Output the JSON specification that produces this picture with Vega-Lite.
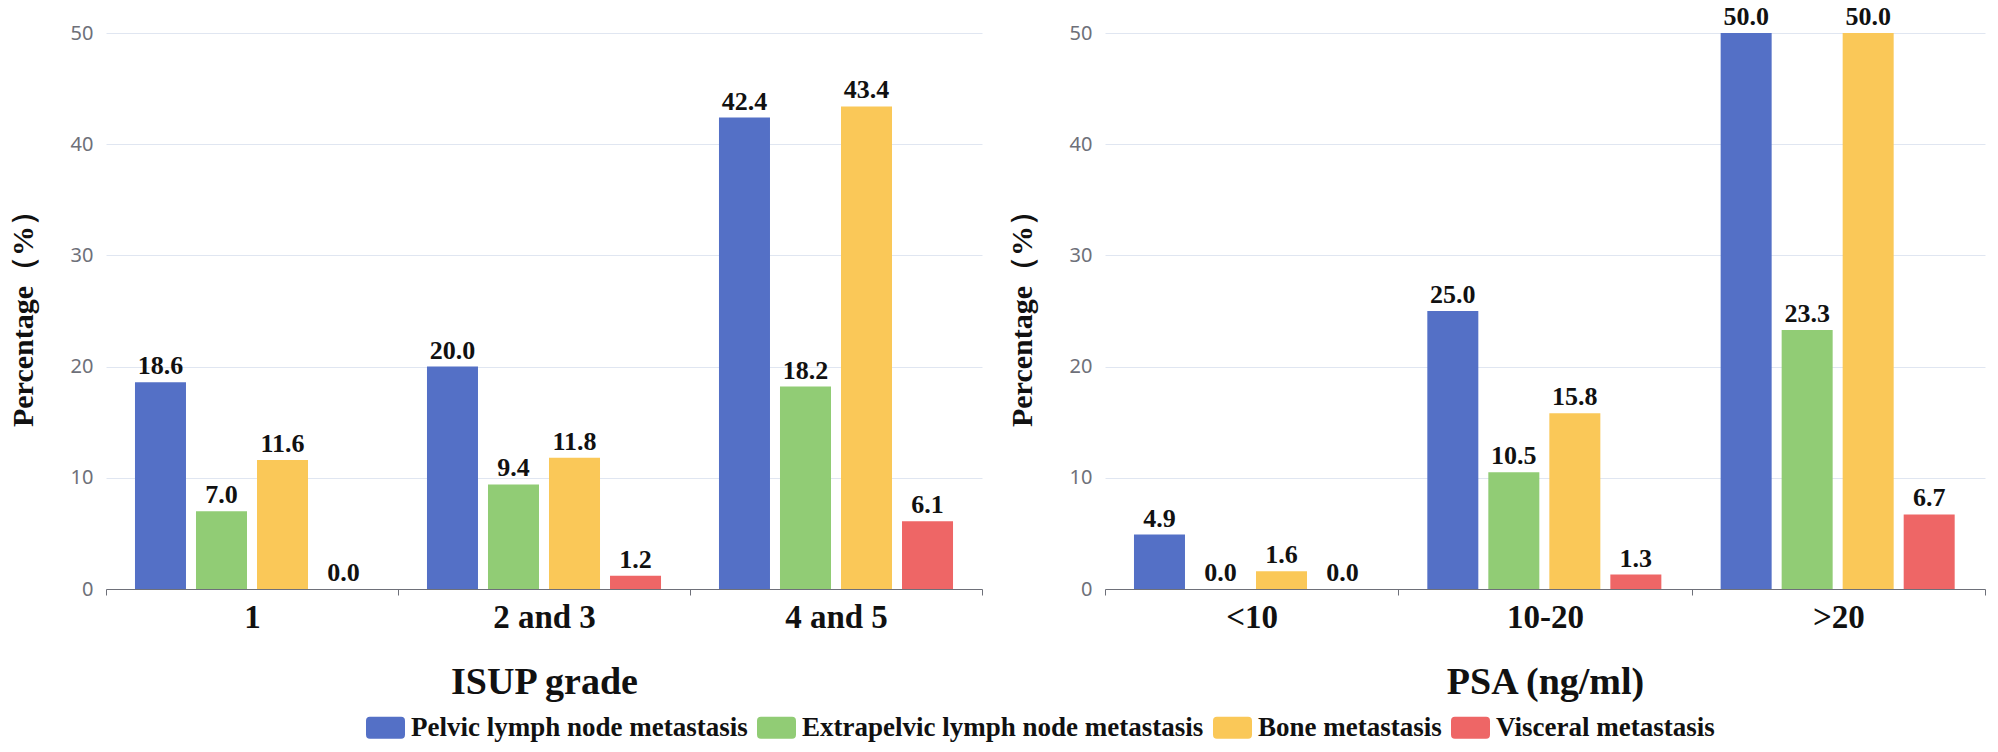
{
  "$schema": "https://vega.github.io/schema/vega-lite/v6.json",
  "background": "white",
  "padding": {"left": 8, "top": 4, "right": 2, "bottom": 8},
  "datasets": {
    "isup": [
      {"group": "1", "type": "Pelvic lymph node metastasis", "pct": 18.6},
      {"group": "1", "type": "Extrapelvic lymph node metastasis", "pct": 7.0},
      {"group": "1", "type": "Bone metastasis", "pct": 11.6},
      {"group": "1", "type": "Visceral metastasis", "pct": 0.0},
      {"group": "2 and 3", "type": "Pelvic lymph node metastasis", "pct": 20.0},
      {"group": "2 and 3", "type": "Extrapelvic lymph node metastasis", "pct": 9.4},
      {"group": "2 and 3", "type": "Bone metastasis", "pct": 11.8},
      {"group": "2 and 3", "type": "Visceral metastasis", "pct": 1.2},
      {"group": "4 and 5", "type": "Pelvic lymph node metastasis", "pct": 42.4},
      {"group": "4 and 5", "type": "Extrapelvic lymph node metastasis", "pct": 18.2},
      {"group": "4 and 5", "type": "Bone metastasis", "pct": 43.4},
      {"group": "4 and 5", "type": "Visceral metastasis", "pct": 6.1}
    ],
    "psa": [
      {"group": "<10", "type": "Pelvic lymph node metastasis", "pct": 4.9},
      {"group": "<10", "type": "Extrapelvic lymph node metastasis", "pct": 0.0},
      {"group": "<10", "type": "Bone metastasis", "pct": 1.6},
      {"group": "<10", "type": "Visceral metastasis", "pct": 0.0},
      {"group": "10-20", "type": "Pelvic lymph node metastasis", "pct": 25.0},
      {"group": "10-20", "type": "Extrapelvic lymph node metastasis", "pct": 10.5},
      {"group": "10-20", "type": "Bone metastasis", "pct": 15.8},
      {"group": "10-20", "type": "Visceral metastasis", "pct": 1.3},
      {"group": ">20", "type": "Pelvic lymph node metastasis", "pct": 50.0},
      {"group": ">20", "type": "Extrapelvic lymph node metastasis", "pct": 23.3},
      {"group": ">20", "type": "Bone metastasis", "pct": 50.0},
      {"group": ">20", "type": "Visceral metastasis", "pct": 6.7}
    ]
  },
  "spacing": 24,
  "hconcat": [
    {
      "width": 876,
      "height": 556,
      "data": {"name": "isup"},
      "encoding": {
        "x": {"field": "group", "type": "nominal", "sort": ["1", "2 and 3", "4 and 5"], "title": "ISUP grade",
              "scale": {"paddingInner": 0, "paddingOuter": 0}},
        "xOffset": {"field": "type", "type": "nominal", "sort": ["Pelvic lymph node metastasis", "Extrapelvic lymph node metastasis", "Bone metastasis", "Visceral metastasis"],
                    "scale": {"paddingInner": 0.164, "paddingOuter": 0.475}},
        "y": {"field": "pct", "type": "quantitative", "title": "Percentage（%）", "scale": {"domain": [0, 50]}, "axis": {"values": [0, 10, 20, 30, 40, 50]}}
      },
      "layer": [
        {"mark": {"type": "bar"},
         "encoding": {"color": {"field": "type", "type": "nominal", "title": null,
           "scale": {"domain": ["Pelvic lymph node metastasis", "Extrapelvic lymph node metastasis", "Bone metastasis", "Visceral metastasis"],
                     "range": ["#5470c6", "#91cc75", "#fac858", "#ee6666"]}}}},
        {"mark": {"type": "text", "baseline": "bottom", "dy": -3, "font": "Liberation Serif", "fontWeight": "bold", "fontSize": 26, "color": "#111111"},
         "encoding": {"text": {"field": "pct", "type": "quantitative", "format": ".1f"}}}
      ]
    },
    {
      "width": 880,
      "height": 556,
      "data": {"name": "psa"},
      "encoding": {
        "x": {"field": "group", "type": "nominal", "sort": ["<10", "10-20", ">20"], "title": "PSA (ng/ml)",
              "scale": {"paddingInner": 0, "paddingOuter": 0}},
        "xOffset": {"field": "type", "type": "nominal", "sort": ["Pelvic lymph node metastasis", "Extrapelvic lymph node metastasis", "Bone metastasis", "Visceral metastasis"],
                    "scale": {"paddingInner": 0.164, "paddingOuter": 0.475}},
        "y": {"field": "pct", "type": "quantitative", "title": "Percentage（%）", "scale": {"domain": [0, 50]}, "axis": {"values": [0, 10, 20, 30, 40, 50]}}
      },
      "layer": [
        {"mark": {"type": "bar"},
         "encoding": {"color": {"field": "type", "type": "nominal", "title": null,
           "scale": {"domain": ["Pelvic lymph node metastasis", "Extrapelvic lymph node metastasis", "Bone metastasis", "Visceral metastasis"],
                     "range": ["#5470c6", "#91cc75", "#fac858", "#ee6666"]}}}},
        {"mark": {"type": "text", "baseline": "bottom", "dy": -3, "font": "Liberation Serif", "fontWeight": "bold", "fontSize": 26, "color": "#111111"},
         "encoding": {"text": {"field": "pct", "type": "quantitative", "format": ".1f"}}}
      ]
    }
  ],
  "config": {
    "view": {"stroke": null},
    "axisX": {
      "tickBand": "extent", "labelAngle": 0, "domainColor": "#6e7079", "tickColor": "#6e7079", "tickSize": 6,
      "labelFont": "Liberation Serif", "labelFontWeight": "bold", "labelFontSize": 33, "labelColor": "#111111", "labelPadding": 6,
      "titleFont": "Liberation Serif", "titleFontWeight": "bold", "titleFontSize": 38, "titleColor": "#111111", "titlePadding": 29,
      "grid": false
    },
    "axisY": {
      "domain": false, "ticks": false, "gridColor": "#e0e6f1", "gridWidth": 1,
      "labelFont": "Noto Sans", "labelFontSize": 20, "labelColor": "#6e7079", "labelPadding": 13,
      "titleFont": "Liberation Serif", "titleFontWeight": "bold", "titleFontSize": 30, "titleColor": "#111111", "titlePadding": 32
    },
    "legend": {
      "orient": "none", "legendX": 260, "legendY": 675, "direction": "horizontal", "title": null,
      "symbolType": "M-0.8,-0.56H0.8Q1,-0.56 1,-0.36V0.36Q1,0.56 0.8,0.56H-0.8Q-1,0.56 -1,0.36V-0.36Q-1,-0.56 -0.8,-0.56Z",
      "symbolSize": 1521, "symbolStrokeWidth": 0, "symbolOpacity": 1,
      "labelFont": "Liberation Serif", "labelFontWeight": "bold", "labelFontSize": 27, "labelColor": "#111111",
      "labelLimit": 0, "labelOffset": 6, "columnPadding": 9
    }
  }
}
